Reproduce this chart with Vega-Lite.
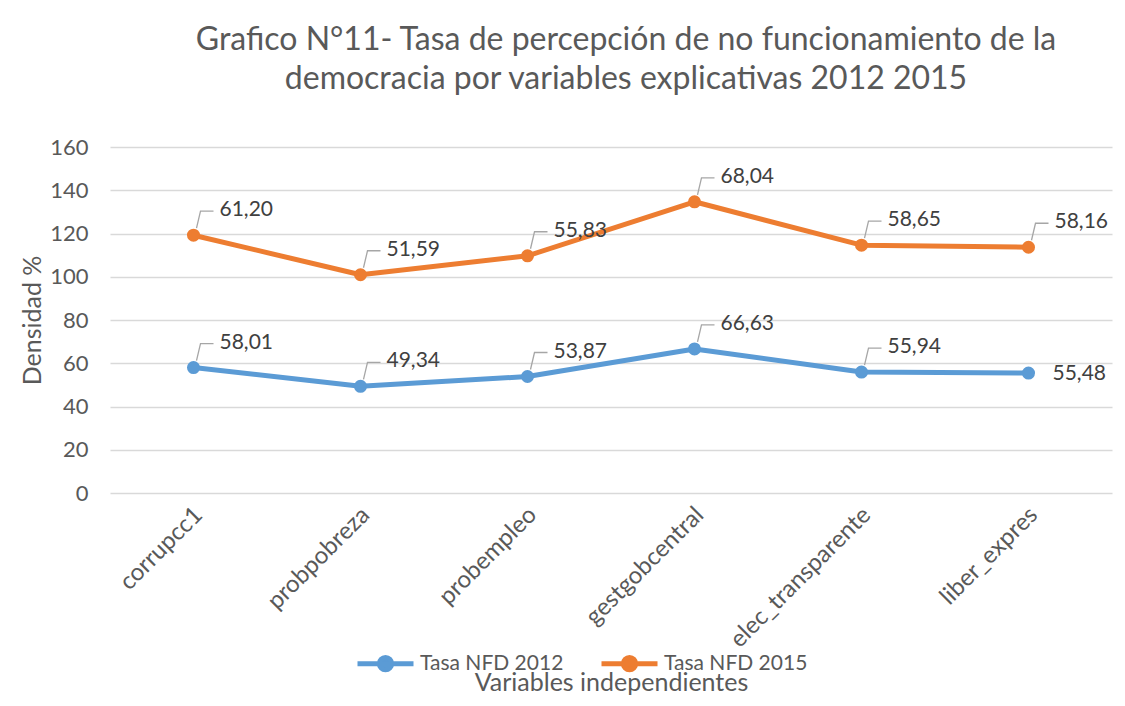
{
  "$schema": "https://vega.github.io/schema/vega-lite/v6.json",
  "width": 1002,
  "height": 346,
  "autosize": "none",
  "padding": {"left": 110, "top": 147, "right": 13, "bottom": 213},
  "background": "white",
  "config": {
    "font": "Lato",
    "view": {"stroke": null},
    "locale": {"number": {"decimal": ",", "thousands": ".", "grouping": [3], "currency": ["", ""]}}
  },
  "title": {
    "text": ["Grafico N°11- Tasa de percepción de no funcionamiento de la", "democracia por variables explicativas 2012 2015"],
    "fontSize": 32,
    "fontWeight": "normal",
    "color": "#595959",
    "lineHeight": 39,
    "anchor": "middle",
    "dx": 15,
    "offset": 40
  },
  "data": {
    "values": [
      {"category": "corrupcc1", "series": "Tasa NFD 2012", "value": 58.01},
      {"category": "probpobreza", "series": "Tasa NFD 2012", "value": 49.34},
      {"category": "probempleo", "series": "Tasa NFD 2012", "value": 53.87},
      {"category": "gestgobcentral", "series": "Tasa NFD 2012", "value": 66.63},
      {"category": "elec_transparente", "series": "Tasa NFD 2012", "value": 55.94},
      {"category": "liber_expres", "series": "Tasa NFD 2012", "value": 55.48},
      {"category": "corrupcc1", "series": "Tasa NFD 2015", "value": 61.20},
      {"category": "probpobreza", "series": "Tasa NFD 2015", "value": 51.59},
      {"category": "probempleo", "series": "Tasa NFD 2015", "value": 55.83},
      {"category": "gestgobcentral", "series": "Tasa NFD 2015", "value": 68.04},
      {"category": "elec_transparente", "series": "Tasa NFD 2015", "value": 58.65},
      {"category": "liber_expres", "series": "Tasa NFD 2015", "value": 58.16}
    ]
  },
  "transform": [
    {"stack": "value", "groupby": ["category"], "sort": [{"field": "series", "order": "ascending"}], "as": ["y0", "y1"]}
  ],
  "encoding": {
    "x": {
      "field": "category",
      "type": "nominal",
      "sort": null,
      "scale": {"type": "point", "padding": 0.5},
      "axis": {
        "title": "Variables independientes",
        "titleFontSize": 25,
        "titleFontWeight": "normal",
        "titleColor": "#595959",
        "titleY": 197,
        "titleBaseline": "alphabetic",
        "labelAngle": -45,
        "labelAlign": "right",
        "labelBaseline": "middle",
        "labelFontSize": 24,
        "labelColor": "#595959",
        "labelPadding": 18,
        "labelOffset": 5,
        "labelLimit": 0,
        "ticks": false,
        "domain": false,
        "grid": false
      }
    },
    "y": {
      "field": "y1",
      "type": "quantitative",
      "scale": {"domain": [0, 160]},
      "axis": {
        "title": "Densidad %",
        "titleFontSize": 25,
        "titleFontWeight": "normal",
        "titleColor": "#595959",
        "titleX": -78,
        "titleY": 173,
        "titleAngle": -90,
        "titleAlign": "center",
        "titleBaseline": "middle",
        "values": [0, 20, 40, 60, 80, 100, 120, 140, 160],
        "labelFontSize": 22,
        "labelColor": "#595959",
        "labelPadding": 22,
        "ticks": false,
        "domain": false,
        "grid": true,
        "gridColor": "#d9d9d9",
        "gridWidth": 1.3
      }
    },
    "color": {
      "field": "series",
      "type": "nominal",
      "scale": {"domain": ["Tasa NFD 2012", "Tasa NFD 2015"], "range": ["#5B9BD5", "#ED7D31"]},
      "legend": {
        "title": null,
        "orient": "none",
        "legendX": 245,
        "legendY": 486,
        "direction": "horizontal",
        "columns": 2,
        "columnPadding": 27,
        "labelFontSize": 21,
        "labelColor": "#595959",
        "labelOffset": 4,
        "symbolType": "M-1,0L1,0M0.22,0A0.22,0.22 0 1,1 -0.22,0A0.22,0.22 0 1,1 0.22,0Z",
        "symbolSize": 3136,
        "symbolStrokeWidth": 5,
        "encode": {"symbols": {"update": {"fill": {"scale": "color", "field": "value"}}}}
      }
    }
  },
  "layer": [
    {"mark": {"type": "line", "strokeWidth": 5, "strokeCap": "round", "strokeJoin": "round"}},
    {"mark": {"type": "point", "filled": true, "size": 170, "opacity": 1}},
    {
      "transform": [{"filter": "!(datum.series == 'Tasa NFD 2012' && datum.category == 'liber_expres')"}],
      "mark": {"type": "point", "shape": "M3,-7L7,-24L20,-24", "size": 4, "filled": false, "stroke": "#a6a6a6", "strokeWidth": 1.3, "opacity": 1},
      "encoding": {"color": {"value": "#a6a6a6"}}
    },
    {
      "transform": [{"filter": "!(datum.series == 'Tasa NFD 2012' && datum.category == 'liber_expres')"}],
      "mark": {"type": "text", "align": "left", "baseline": "middle", "dx": 26, "dy": -25, "fontSize": 21, "color": "#404040"},
      "encoding": {"text": {"field": "value", "type": "quantitative", "format": ".2f"}, "color": {"value": "#404040"}}
    },
    {
      "transform": [{"filter": "datum.series == 'Tasa NFD 2012' && datum.category == 'liber_expres'"}],
      "mark": {"type": "text", "align": "left", "baseline": "middle", "dx": 24, "dy": 1, "fontSize": 21, "color": "#404040"},
      "encoding": {"text": {"field": "value", "type": "quantitative", "format": ".2f"}, "color": {"value": "#404040"}}
    }
  ]
}
